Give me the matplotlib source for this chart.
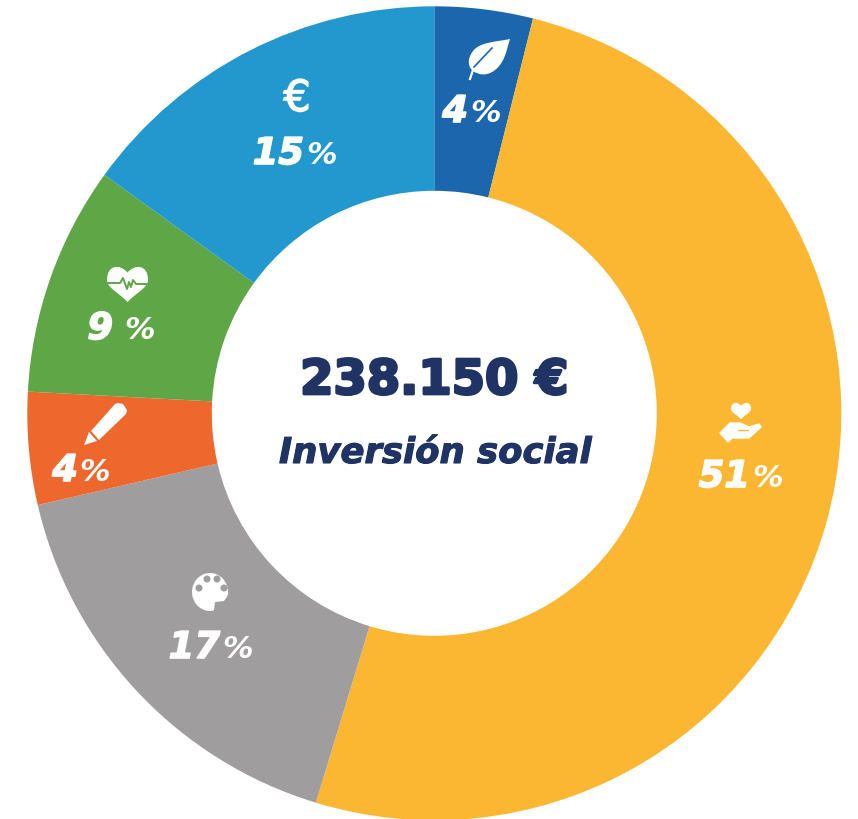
import matplotlib
matplotlib.use("Agg")
import matplotlib.pyplot as plt
import matplotlib.patheffects as pe
from matplotlib.path import Path
from matplotlib.patches import PathPatch, Polygon, Circle, Ellipse

# Values (share of the ring, in percent)
categories = ["Medio ambiente", "Acción social", "Cultura", "Educación", "Salud", "Economía"]
values = [3.9, 50.8, 16.68, 4.47, 9.11, 15.04]
number_labels = ["4", "51", "17", "4", "9", "15"]
percent_labels = ["%", "%", "%", "%", "%", "%"]
total_label = "238.150 €"
title_label = "Inversión social"

colors = ["#1b66ad", "#fbb731", "#9f9d9e", "#ee672d", "#5ea646", "#2298ce"]
navy = "#1f3364"
white = "white"

W, H = 858, 819
cx, cy, r_out, r_in = 434.3, 413.3, 407.0, 222.5

fig = plt.figure(figsize=(W / 100, H / 100), dpi=100)

# Ring
ax = fig.add_axes([(cx - r_out) / W, 1 - (cy + r_out) / H, 2 * r_out / W, 2 * r_out / H])
ax.pie(values, colors=colors, startangle=90, counterclock=False, radius=1,
       wedgeprops=dict(width=1 - r_in / r_out, linewidth=0))
ax.set_xlim(-1, 1)
ax.set_ylim(-1, 1)
ax.axis("off")

# Overlay in picture pixels for text and icons
ov = fig.add_axes([0, 0, 1, 1])
ov.set_xlim(0, W)
ov.set_ylim(H, 0)
ov.axis("off")
ov.patch.set_alpha(0)

font = "DejaVu Sans"


def fat(color, width):
    # DejaVu Bold is lighter than the original face, so thicken it a little
    return [pe.withStroke(linewidth=width, foreground=color)]


# Percent labels: right edge of number, left edge of %, baseline
label_pos = [(468, 470, 122), (750, 752, 487), (220, 222, 658), (78, 79, 481), (113, 124, 339), (304, 306, 164)]
for num, pct, (xn, xp, yb) in zip(number_labels, percent_labels, label_pos):
    ov.text(xn, yb, num, ha="right", va="baseline", color=white, fontsize=26.5,
            fontweight="bold", style="italic", family=font, path_effects=fat(white, 1.2))
    ov.text(xp, yb, pct, ha="left", va="baseline", color=white, fontsize=22,
            fontweight="bold", style="italic", family=font)

ov.text(297, 111, "€", ha="center", va="baseline", color=white, fontsize=31, family=font,
        path_effects=fat(white, 1.0))

ov.text(434, 394, total_label, ha="center", va="baseline", color=navy, fontsize=34.5,
        fontweight="bold", family=font, path_effects=fat(navy, 2.0))
ov.text(435, 463, title_label, ha="center", va="baseline", color=navy, fontsize=25.5,
        fontweight="bold", style="italic", family=font, path_effects=fat(navy, 0.8))


def heart(x, y, w, h, color):
    # x, y = middle of the dip at the top
    verts = [(x, y), (x - w * 0.2, y - h * 0.25), (x - w * 0.5, y - h * 0.2), (x - w * 0.5, y + h * 0.2),
             (x - w * 0.5, y + h * 0.42), (x - w * 0.2, y + h * 0.55), (x, y + h * 0.8),
             (x + w * 0.2, y + h * 0.55), (x + w * 0.5, y + h * 0.42), (x + w * 0.5, y + h * 0.2),
             (x + w * 0.5, y - h * 0.2), (x + w * 0.2, y - h * 0.25), (x, y), (x, y)]
    codes = [Path.MOVETO] + [Path.CURVE4] * 12 + [Path.CLOSEPOLY]
    ov.add_patch(PathPatch(Path(verts, codes), fc=color, ec="none"))


# Leaf
leaf = [(510, 39), (495, 42), (480, 42), (473, 51), (466, 60), (469, 68), (473, 71),
        (486, 80), (499, 70), (504, 58), (507, 51), (508, 45), (510, 39), (510, 39)]
ov.add_patch(PathPatch(Path(leaf, [Path.MOVETO] + [Path.CURVE4] * 12 + [Path.CLOSEPOLY]), fc=white, ec="none"))
ov.plot([470, 474], [79, 67], color=white, lw=1.6)
ov.plot([474, 492], [67, 48], color=colors[0], lw=1.2)

# Hand with heart
heart(741, 405.5, 20, 17, white)
hand = [(720, 433), (730, 423), (740, 423), (749, 427), (759, 424), (761, 427), (749, 438),
        (732, 438), (728, 442)]
ov.add_patch(Polygon(hand, closed=True, fc=white, ec=white, lw=1, joinstyle="round"))
ov.plot([738, 748], [429.5, 429.5], color=colors[1], lw=1)

# Palette
ov.add_patch(Ellipse((210, 592), 36, 38, fc=white, ec="none"))
ov.add_patch(Polygon([(229, 594), (224, 601), (215, 602), (214, 610), (212, 612), (230, 616), (236, 600)],
                     closed=True, fc=colors[2], ec="none"))
for hx, hy in [(199, 588), (207, 579), (217, 579), (224, 588)]:
    ov.add_patch(Circle((hx, hy), 3.5, fc=colors[2], ec="none"))

# Pencil
ov.add_patch(Polygon([(84, 445), (89, 432), (97, 441)], closed=True, fc=white, ec="none"))
ov.add_patch(Polygon([(91, 431), (115, 404), (118, 403), (123, 404), (127, 410), (126, 414), (99, 440)],
                     closed=True, fc=white, ec="none"))

# Heart with pulse line
heart(127.5, 272.5, 41, 37, white)
ov.plot([107, 120, 123, 127, 129, 131, 133, 136, 148],
        [283, 283, 278, 289, 282, 287, 280, 284, 284], color=colors[4], lw=1.4)

fig.savefig("out.png", dpi=100)
